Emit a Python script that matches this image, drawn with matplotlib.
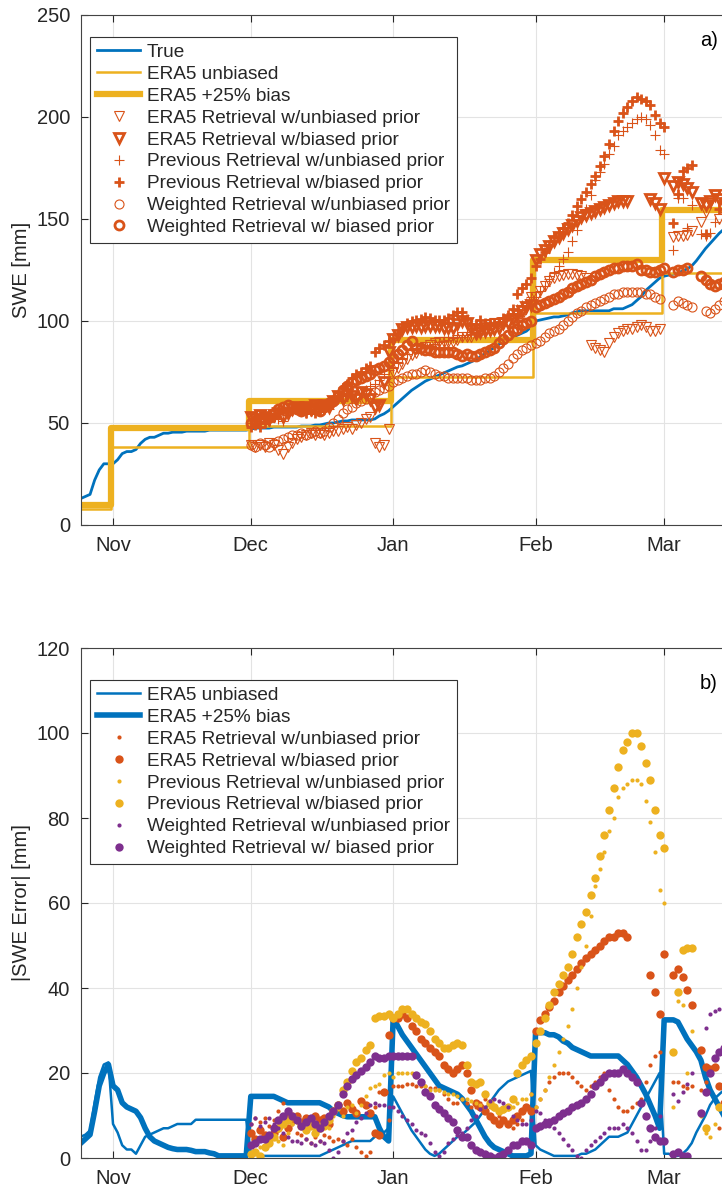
import numpy as np
import matplotlib
matplotlib.use("Agg")
import matplotlib.pyplot as plt

nan = np.nan
plt.rcParams['font.family'] = ['Liberation Sans', 'DejaVu Sans']

# day numbers: 0 = 1 Nov
months = ['Nov', 'Dec', 'Jan', 'Feb', 'Mar']
month_days = [0, 30, 61, 92, 120]

days_all = np.arange(-7, 134)
days_ret = np.arange(30, 134)

true_swe = [13, 14, 15, 22, 27, 30, 30,
            30, 32, 35, 36, 36, 37, 40, 42, 43, 43, 44, 45, 45, 45.5, 45.5, 45.5, 46, 46, 46, 46,
            46, 46.5, 46.5, 46.5, 46.5, 46.5, 46.5, 46.5, 46.5, 46.5,
            47, 47.5, 47.5, 47.5, 47.5, 48, 48, 48, 48, 48, 48, 48.5, 48.5, 48.5, 49, 49, 49.5, 50, 50, 50.5,
            51, 51, 51.5, 51.5, 51.5, 51.5, 51.5, 52, 53.5, 54.5, 56,
            58, 60, 62, 64, 66, 67.5, 69, 70.5, 71.5, 72.5, 73.5, 74.5, 75.5, 76.5, 77.5, 78, 79, 80, 81, 82.5,
            84, 85.5, 87, 88.5, 90, 91, 92, 93, 94, 95, 97,
            100, 100.5, 101, 101.5, 102, 102, 102.5, 103, 104, 104.5, 105, 105, 105, 105, 105, 105, 105, 106, 106, 106,
            107, 108, 110, 112, 115, 117, 119, 121,
            122, 122.5, 123, 123.5, 124.5, 125.5, 127, 129.5, 132.5, 135.5, 138, 140.5, 143, 145]

era5_edges = [-7, -0.5, 29.5, 60.5, 91.5, 119.5, 140]
era5_unbiased = [8, 38, 48.5, 72.5, 104, 123.5, 123.5]
era5_biased = [10, 47.5, 60.6, 90.6, 130, 154.4, 154.4]

# retrieved SWE, days 30..133
era5_u_top = [39, 38, 39, 38, 40, 39, 37, 35, 38, 40, 42, 43, 44, 45, 44, 45, 44, 45, 46, 46,
              47, 48, 47, 49, 50, 52, 53, 40, 38, 39, 47,
              75, 77, 79, 81.5, 83.5, 84.5, 86, 87.5, 88, 89, 89.5, 89.5, 89.5, 89.5, 90.5, 92, 92, 92, 93, 95.5,
              98, 98.5, 99, 98.5, 99, 99, 99, 101, 103, 107, 112,
              112, 114.5, 117, 119.5, 121, 122, 122.5, 123, 123, 122.5, 122, 121, 88, 87, 86, 85, 89, 92, 94, 95,
              96, 96, 97, 98, 97, 95, 95, 96,
              nan, nan, 141, 141.5, 141.5, 142, 144, nan, 148.5, 153.5, 158, nan, 150, 153]
era5_b_top = [53, 52, 54, 53, 52, 54, 55, 53, 55, 57, 58, 57, 58, 57, 59, 58, 59, 58, 61, 63,
              62, 64, 63, 62, 65, 64, 62, 58, 59, 70, 85,
              91, 93, 96, 97, 97, 97.5, 97, 97.5, 97.5, 97.5, 97.5, 96.5, 96.5, 96.5, 98.5, 100, 99, 96, 94, 94.5,
              95, 95.5, 96, 96.5, 99, 99, 101, 103, 105, 107, 108,
              130, 133, 135, 137, 139, 141, 143, 145, 147, 149, 151, 152, 153, 154, 155, 156, 157, 158, 159, 159,
              159, nan, nan, nan, nan, 160, 158, 155,
              170, nan, 166, 168, 167, 165, 163, nan, 158, 157, 159, 162, 160, 158]
prev_u_top = [50, 51, 50, 52, 51, 53, 52, 51, 54, 56, 57, 56, 55, 57, 56, 57, 58, 57, 60, 62,
              61, 63, 64, 62, 64, 66, 68, 69, 71, 74, 76,
              77, 80, 82, 84, 86, 86.5, 87, 87.5, 87.5, 88.5, 89.5, 90, 90.5, 91.5, 92, 92, 93, 93.5, 94, 95,
              96, 97.5, 98.5, 99.5, 101, 102.5, 104, 106, 108, 109, 112,
              112, 114.5, 117, 120.5, 124, 127, 130.5, 134, 139, 144.5, 150, 155, 162, 169, 173, 177, 182, 186, 191, 193,
              195, 197, 199, 200, 199, 196, 191, 184,
              182, nan, 135, 160.5, 160.5, 145.5, 157, nan, 142.5, 141.5, 143, 148.5, nan, nan]
prev_b_top = [48, 49, 48, 50, 51, 53, 55, 56, 57, 58, 57, 56, 55, 56, 55, 56, 57, 59, 61, 63,
              67, 69, 72, 74, 75, 77, 78, 85, 87, 88, 90,
              91, 94, 97, 99, 100, 100.5, 101, 102, 101.5, 100.5, 100.5, 100.5, 101.5, 103, 104.5, 104.5, 101, 98, 98.5, 100.5,
              99, 98.5, 99, 99.5, 101.5, 103, 106, 113, 116, 118, 121,
              127, 130.5, 134, 137.5, 141, 143, 145.5, 148, 152, 156.5, 160, 163, 167, 171, 176, 181, 187, 193, 198, 202,
              205, 208, 210, 209, 208, 206, 201, 197,
              195, nan, 148, 162.5, 173.5, 175, 176.5, nan, nan, 142.5, nan, nan, 155, nan]
wt_u_top = [39, 38, 40, 39, 38, 40, 41, 42, 43, 44, 44, 45, 44, 45, 46, 45, 46, 48, 50, 52,
            55, 57, 58, 60, 61, 62, 64, 65, 66, 67, 68,
            70, 71, 72, 73, 74, 74, 75, 76, 75, 74, 73, 73, 72, 72, 72, 72, 72, 71, 71, 71,
            72, 72, 73, 75, 77, 79, 82, 84, 86, 87, 88,
            89, 90, 92, 94, 95, 96, 98, 100, 102, 104, 105, 107, 108, 109, 110, 111, 112, 113, 113, 114,
            114, 114, 114, 114, 113, 113, 112, 111,
            nan, nan, 108, 110, 109, 108, 107, nan, nan, 105, 104, 106, 108, 110]
wt_b_top = [50, 51, 52, 52, 53, 55, 57, 58, 59, 58, 57, 56, 57, 58, 57, 56, 58, 60, 61, 63,
            66, 68, 70, 71, 72, 73, 74, 76, 77, 78, 80,
            82, 84, 86, 88, 90, 87, 87, 86, 86, 85, 85, 85, 85, 85, 84, 83, 84, 83, 83, 84,
            85, 86, 87, 89, 91, 93, 95, 96, 98, 99, 100,
            107, 108, 109, 110, 111, 112, 113, 114, 116, 117, 118, 119, 120, 122, 123, 124, 125, 126, 126, 127,
            127, 127, 128, 125, 125, 124, 124, 125,
            126, nan, 124, 125, 125, 126, nan, nan, 122, 120, 118, 117, 118, 119]

# |SWE error|, ERA5 lines on days -7..133
err_line_u = [5, 5.5, 6.5, 13, 19, 22, 22.5,
              8, 6, 3, 2, 2, 1, 3, 5, 5.5, 6, 6.5, 7, 7, 7.5, 8, 8, 8, 8, 9, 9, 9, 9, 9, 9, 9, 9, 9, 9, 9, 9,
              1, 1, 0.5, 0.5, 0.5, 0.5, 0.5, 0.5, 0.5, 0.5, 0.5, 0.5, 0.5, 0.5, 0.5, 0.5, 1, 1.5, 2, 2.5,
              3, 3.5, 4, 4, 4, 4, 4, 5, 5.5, 6, 7,
              14.5, 12.5, 10.5, 8.5, 6.5, 5, 3.5, 2, 1, 0.5, 1, 2, 3, 4, 5, 5.5, 6.5, 7.5, 8.5, 10,
              11.5, 13, 14.5, 16, 17, 18, 18.5, 19, 19.5, 20, 20.5,
              3, 2, 1.5, 1, 0.5, 0.5, 0.5, 0.5, 0.5, 0.5, 1, 1, 1.5, 2, 3, 4, 5, 5, 5, 5.5,
              6, 8, 10, 12, 14, 16, 18, 20,
              1, 1, 0.5, 0.5, 1, 2, 3.5, 6, 8, 10, 12.5, 14, 15, 16]
err_line_b = [3.5, 4.5, 5.5, 11, 17, 20, 22,
              17, 16, 13, 12, 11.5, 11, 9.5, 7, 5, 4, 3.5, 3, 2.5, 2.2, 2, 2, 2, 1.8, 1.5, 1.5,
              1.5, 1.2, 1, 0.5, 0.5, 0.5, 0.5, 0.5, 0.5, 0.5,
              14.5, 14.5, 14.5, 14.5, 14.5, 14.5, 14, 13.5, 13, 13, 13, 13, 13, 13, 13, 13, 12.5, 12, 11, 10.5,
              10, 9.7, 9.7, 9.7, 9.7, 9.7, 9.7, 9.7, 7, 5, 4,
              33, 31, 29, 27.5, 26, 24.5, 23, 21.5, 20, 18.5, 17, 16.5, 16, 15.5, 15, 14, 12.5, 11, 9, 7,
              5, 3.5, 2.5, 2, 1.5, 1, 0.5, 0.5, 0.5, 0.5, 1,
              29.5, 29.5, 29.5, 29, 29, 28.5, 27.5, 27, 26, 25.5, 25, 24.5, 24, 24, 24, 24, 24, 24, 24, 23,
              22, 20.5, 19, 17, 15, 12.5, 10, 7,
              32.5, 32.5, 32.5, 32, 30, 28, 26.5, 25, 23, 19, 16, 14, 12, 10]

# |SWE error| of the retrievals, days 30..133
err_era5_u = [8, 9.5, 8.5, 9.5, 7.5, 9, 11, 13, 10, 8, 6, 5.5, 4.5, 3.5, 5, 4, 5.5, 5, 4, 4.5,
              4, 3, 4.5, 2.5, 1.5, 0.5, 1.5, 12, 15.5, 15.5, 9,
              17, 17, 17, 17.5, 17.5, 17, 17, 17, 16.5, 16.5, 16, 15, 14, 13, 13, 14, 13, 12, 12, 13,
              14, 13, 12, 10, 9, 8, 7, 8, 9, 12, 15,
              12, 14, 16, 18, 19, 20, 20, 20, 19, 18, 17, 16, 17, 18, 19, 20, 16, 14, 12, 11,
              11, 12, 13, 14, 18, 22, 24, 25,
              nan, nan, 18, 18, 17, 16.5, 17, nan, 16, 18, 20, nan, 7, 8]
err_era5_b = [6, 4.5, 6.5, 5.5, 4.5, 6, 7, 5, 7, 9, 10, 8.5, 9.5, 8.5, 10, 9, 9.5, 8, 11, 12.5,
              11, 13, 11.5, 10.5, 13.5, 12.5, 10.5, 6, 5.5, 15.5, 29,
              33, 33, 34, 33, 31, 30, 28, 27, 26, 25, 24, 22, 21, 20, 21, 22, 20, 16, 13, 12,
              11, 10, 9, 8, 9, 8, 9, 10, 11, 12, 11,
              30, 32.5, 34, 35.5, 37, 39, 40.5, 42, 43, 44.5, 46, 47, 48, 49, 50, 51, 52, 52, 53, 53,
              52, nan, nan, nan, nan, 43, 39, 34,
              48, nan, 43, 44.5, 42.5, 39.5, 36, nan, 25.5, 21.5, 21, 21.5, 17, 13]
err_prev_u = [3, 3.5, 2.5, 4.5, 3.5, 5, 4, 3, 6, 8, 9, 7.5, 6.5, 8.5, 7, 8, 8.5, 7, 10, 11.5,
              10, 12, 12.5, 10.5, 12.5, 14.5, 16.5, 17, 17.5, 19.5, 20,
              19, 20, 20, 20, 20, 19, 18, 17, 16, 16, 16, 15.5, 15, 15, 14.5, 14, 14, 13.5, 13, 12.5,
              12, 12, 11.5, 11, 11, 11.5, 12, 13, 14, 14, 15,
              12, 14, 16, 19, 22, 25, 28, 31, 35, 40, 45, 50, 57, 64, 68, 72, 77, 80, 85, 87,
              88, 89, 89, 88, 84, 79, 72, 63,
              60, nan, 12, 37, 36, 20, 30, nan, 10, 6, 5, 8, nan, nan]
err_prev_b = [1, 1.5, 0.5, 2.5, 3.5, 5, 7, 8, 9, 10, 9, 7.5, 6.5, 7.5, 6, 7, 7.5, 9, 11, 12.5,
              16, 18, 20.5, 22.5, 23.5, 25.5, 26.5, 33, 33.5, 33.5, 34,
              33, 34, 35, 35, 34, 33, 32, 31.5, 30, 28, 27, 26, 26, 26.5, 27, 26.5, 22, 18, 17.5, 18,
              15, 13, 12, 11, 11.5, 12, 14, 20, 22, 23, 24,
              27, 30, 33, 36, 39, 41, 43, 45, 48, 52, 55, 58, 62, 66, 71, 76, 82, 87, 92, 96,
              98, 100, 100, 97, 93, 89, 82, 76,
              73, nan, 25, 39, 49, 49.5, 49.5, nan, nan, 7, nan, nan, 12, nan]
err_wt_u = [8, 9.5, 7.5, 8.5, 9.5, 8, 7, 6, 5, 4, 4, 3.5, 4.5, 3.5, 3, 4, 3.5, 2, 0, 1.5,
            4, 6, 6.5, 8.5, 9.5, 10.5, 12.5, 13, 12.5, 12.5, 12,
            12, 11, 10, 9, 8, 6.5, 6, 5.5, 3.5, 1.5, 0.5, 1.5, 3.5, 4.5, 5.5, 6, 7, 9, 10, 11.5,
            12, 13.5, 14, 13.5, 13, 12, 10, 9, 8, 8, 9,
            11, 10.5, 9, 7.5, 7, 6, 4.5, 3, 2, 0.5, 0, 2, 3, 4, 5, 6, 7, 7, 7, 8,
            7, 6, 4, 2, 2, 4, 7, 10,
            nan, nan, 15, 13.5, 15.5, 17.5, 20, nan, nan, 30.5, 34, 34.5, 35, 35]
err_wt_b = [3, 3.5, 4.5, 4.5, 5.5, 7, 9, 10, 11, 10, 9, 7.5, 8.5, 9.5, 8, 7, 8.5, 10, 11, 12.5,
            15, 17, 18.5, 19.5, 20.5, 21.5, 22.5, 24, 23.5, 23.5, 24,
            24, 24, 24, 24, 24, 19.5, 18, 15.5, 14.5, 12.5, 11.5, 10.5, 9.5, 8.5, 6.5, 5, 5, 3, 2, 1.5,
            1, 0.5, 0, 0.5, 1, 2, 3, 3, 4, 4, 3,
            7, 7.5, 8, 8.5, 9, 10, 10.5, 11, 12, 12.5, 13, 14, 15, 17, 18, 19, 20, 20, 20, 21,
            20, 19, 18, 13, 10, 7, 5, 4,
            4, nan, 1, 1.5, 0.5, 0.5, nan, nan, 10.5, 15.5, 20, 23.5, 25, 26]

blue = '#0072BD'
gold = '#EDB120'
red = '#D95319'
purple = '#7E2F8E'
txt = '#262626'

fig = plt.figure(figsize=(7.22, 11.9), dpi=100)
xl = (-6.97, 137.6)
ax1 = fig.add_axes([81 / 722, 1 - 525 / 1190, 664 / 722, 510 / 1190])
ax2 = fig.add_axes([81 / 722, 1 - 1158 / 1190, 664 / 722, 510 / 1190])

# a) SWE
ax1.plot(days_all, true_swe, color=blue, lw=2, label='True')
ax1.plot(era5_edges, era5_unbiased, color=gold, lw=1.8, drawstyle='steps-post', label='ERA5 unbiased')
ax1.plot(era5_edges, era5_biased, color=gold, lw=4.5, drawstyle='steps-post', label='ERA5 +25% bias')
mk = dict(ls='none', color=red, mfc='none', ms=6.5)
ax1.plot(days_ret, era5_u_top, marker='v', mew=0.8, label='ERA5 Retrieval w/unbiased prior', **mk)
ax1.plot(days_ret, era5_b_top, marker='v', mew=2, label='ERA5 Retrieval w/biased prior', **mk)
ax1.plot(days_ret, prev_u_top, marker='+', mew=0.8, label='Previous Retrieval w/unbiased prior', **mk)
ax1.plot(days_ret, prev_b_top, marker='+', mew=2, label='Previous Retrieval w/biased prior', **mk)
ax1.plot(days_ret, wt_u_top, marker='o', mew=0.8, label='Weighted Retrieval w/unbiased prior', **mk)
ax1.plot(days_ret, wt_b_top, marker='o', mew=2, label='Weighted Retrieval w/ biased prior', **mk)
ax1.set_ylim(0, 250)
ax1.set_yticks(range(0, 251, 50))
ax1.set_ylabel('SWE [mm]', fontsize=14.5, color=txt)
ax1.text(0.932, 0.94, 'a)', transform=ax1.transAxes, fontsize=14.5, color='black')

# b) |SWE error|
ax2.plot(days_all, err_line_u, color=blue, lw=1.8, label='ERA5 unbiased')
ax2.plot(days_all, err_line_b, color=blue, lw=4, label='ERA5 +25% bias')
dt = dict(ls='none', marker='o', mec='none')
ax2.plot(days_ret, err_era5_u, color=red, ms=3, label='ERA5 Retrieval w/unbiased prior', **dt)
ax2.plot(days_ret, err_era5_b, color=red, ms=6, label='ERA5 Retrieval w/biased prior', **dt)
ax2.plot(days_ret, err_prev_u, color=gold, ms=3, label='Previous Retrieval w/unbiased prior', **dt)
ax2.plot(days_ret, err_prev_b, color=gold, ms=6, label='Previous Retrieval w/biased prior', **dt)
ax2.plot(days_ret, err_wt_u, color=purple, ms=3, label='Weighted Retrieval w/unbiased prior', **dt)
ax2.plot(days_ret, err_wt_b, color=purple, ms=6, label='Weighted Retrieval w/ biased prior', **dt)
ax2.set_ylim(0, 120)
ax2.set_yticks(range(0, 121, 20))
ax2.set_ylabel('|SWE Error| [mm]', fontsize=14.5, color=txt)
ax2.text(0.932, 0.92, 'b)', transform=ax2.transAxes, fontsize=14.5, color='black')

for ax, ly in [(ax1, 1 - 22 / 510), (ax2, 1 - 32 / 510)]:
    ax.set_xlim(*xl)
    ax.set_xticks(month_days)
    ax.set_xticklabels(months)
    ax.grid(True, color='#e3e3e3', lw=0.8)
    ax.set_axisbelow(True)
    ax.tick_params(direction='in', length=5, top=True, right=True, labelsize=14.5,
                   colors=txt, pad=8)
    for s in ax.spines.values():
        s.set_color('#444444')
        s.set_linewidth(0.8)
    leg = ax.legend(loc='upper left', bbox_to_anchor=(9 / 664, ly), borderaxespad=0,
                    fontsize=13.7, frameon=True, fancybox=False, framealpha=1,
                    handlelength=2.3, labelspacing=0.24, borderpad=0.35, handletextpad=0.35)
    leg.get_frame().set_edgecolor('#333333')
    leg.get_frame().set_linewidth(0.8)
    for t in leg.get_texts():
        t.set_color(txt)

fig.savefig('out.png', dpi=100)
